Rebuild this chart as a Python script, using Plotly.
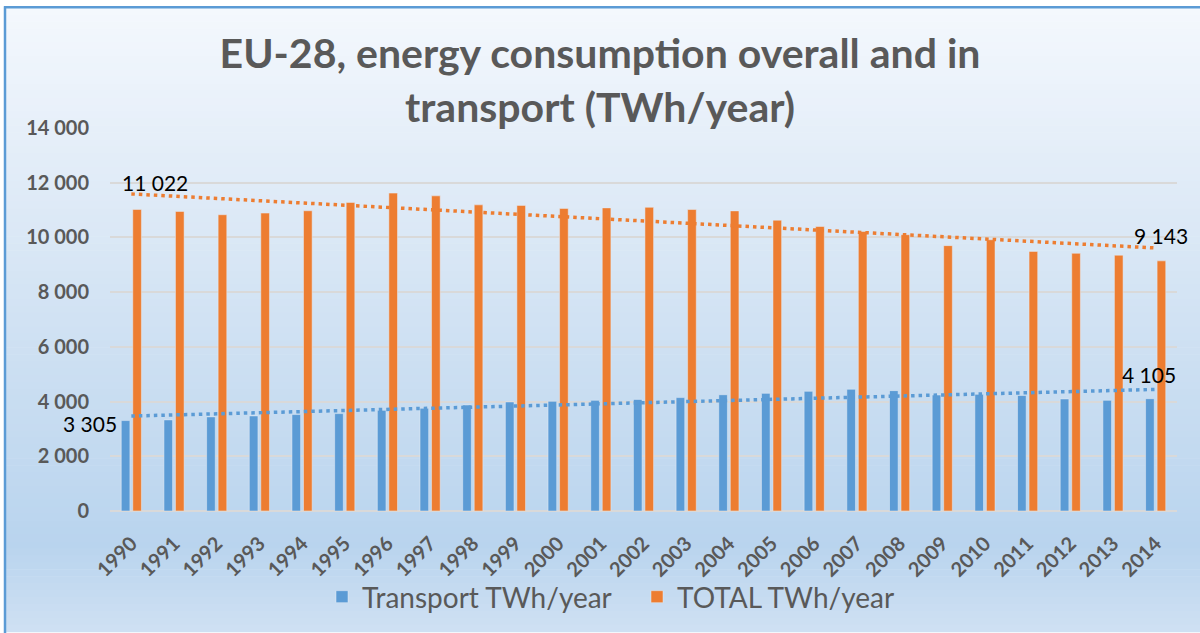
import numpy as np
import plotly.graph_objects as go

years = [str(y) for y in range(1990, 2015)]
transport = [3305, 3330, 3440, 3475, 3525, 3560, 3680, 3755, 3875, 3985, 4010, 4045, 4080,
             4145, 4250, 4300, 4375, 4450, 4400, 4240, 4265, 4220, 4095, 4045, 4105]
total = [11022, 10950, 10830, 10890, 10975, 11280, 11620, 11520, 11190, 11170, 11060, 11080, 11100,
         11020, 10970, 10630, 10400, 10220, 10100, 9700, 9915, 9490, 9420, 9350, 9143]
series_names = ["Transport TWh/year", "TOTAL TWh/year"]
y_ticks = [0, 2000, 4000, 6000, 8000, 10000, 12000, 14000]

BLUE = "#5b9bd5"
ORANGE = "#ed7d31"
GREY = "#595959"

W, H = 1200, 633
ML, MR, MT, MB = 110, 23, 128, 121
PW, PH = W - ML - MR, H - MT - MB


def px_x(p):
    return (p - ML) / PW


def px_y(p):
    return (H - MB - p) / PH


def fmt(v):
    return f"{v:,}".replace(",", " ")


# linear trendlines (as Excel)
idx = np.arange(len(years))
trend_t = np.polyval(np.polyfit(idx, transport, 1), idx)
trend_o = np.polyval(np.polyfit(idx, total, 1), idx)

fig = go.Figure()
fig.add_trace(go.Bar(x=years, y=transport, name=series_names[0], marker_color=BLUE))
fig.add_trace(go.Bar(x=years, y=total, name=series_names[1], marker_color=ORANGE))
fig.add_trace(go.Scatter(x=years, y=trend_t, mode="lines", showlegend=False, hoverinfo="skip",
                         line=dict(color=BLUE, width=3.5, dash="3.5px,4px")))
fig.add_trace(go.Scatter(x=years, y=trend_o, mode="lines", showlegend=False, hoverinfo="skip",
                         line=dict(color=ORANGE, width=3.5, dash="3.5px,4px")))

# background gradient
stops = [(0.0, (0xf4, 0xf8, 0xfd)), (0.2, (0xe6, 0xef, 0xf9)), (0.5, (0xd1, 0xe2, 0xf3)),
         (0.86, (0xb9, 0xd4, 0xee)), (1.0, (0xcf, 0xe1, 0xf3))]


def grad(t):
    for (t0, c0), (t1, c1) in zip(stops[:-1], stops[1:]):
        if t0 <= t <= t1:
            f = (t - t0) / (t1 - t0)
            return "rgb(%d,%d,%d)" % tuple(round(a + (b - a) * f) for a, b in zip(c0, c1))
    return "rgb(%d,%d,%d)" % stops[-1][1]


shapes = []
N = 90
top, bot = 7, H
for i in range(N):
    y0 = top + (bot - top) * i / N
    y1 = top + (bot - top) * (i + 1) / N + 0.6
    shapes.append(dict(type="rect", xref="paper", yref="paper", layer="below",
                       x0=px_x(5), x1=px_x(W + 2), y0=px_y(y1), y1=px_y(y0),
                       line=dict(width=0), fillcolor=grad((i + 0.5) / N)))
# frame lines
shapes.append(dict(type="line", xref="paper", yref="paper", layer="below",
                   x0=px_x(4), x1=px_x(W + 2), y0=px_y(7), y1=px_y(7),
                   line=dict(color=BLUE, width=2.5)))
shapes.append(dict(type="line", xref="paper", yref="paper", layer="below",
                   x0=px_x(5), x1=px_x(5), y0=px_y(6), y1=px_y(H + 2),
                   line=dict(color=BLUE, width=2.5)))

first, last = 0, len(years) - 1  # category indices
lab_font = dict(family="Lato, sans-serif", size=21, color="#000000")
annotations = [
    dict(x=first, y=total[first], text=fmt(total[first]), showarrow=False, xanchor="left",
         yanchor="middle", xshift=-11, yshift=27, font=lab_font),
    dict(x=first, y=transport[first], text=fmt(transport[first]), showarrow=False, xanchor="right",
         yanchor="middle", xshift=-12, yshift=-3, font=lab_font),
    dict(x=last, y=total[last], text=fmt(total[last]), showarrow=False, xanchor="center",
         yanchor="middle", xshift=5, yshift=25, font=lab_font),
    dict(x=last, y=transport[last], text=fmt(transport[last]), showarrow=False, xanchor="center",
         yanchor="middle", xshift=-7, yshift=24, font=lab_font),
]

fig.update_layout(
    width=W, height=H,
    margin=dict(l=ML, r=MR, t=MT, b=MB),
    paper_bgcolor="#ffffff",
    plot_bgcolor="rgba(0,0,0,0)",
    separators=". ",
    barmode="group", bargap=0.46, bargroupgap=0.25,
    title=dict(text="EU-28, energy consumption overall and in<br>transport (TWh/year)",
               x=0.5, xref="container", xanchor="center", y=0.892, yref="container", yanchor="middle",
               font=dict(family="Lato, sans-serif", size=41, color=GREY, weight="bold")),
    xaxis=dict(type="category", range=[-0.5, len(years) - 0.5], tickangle=-45, showgrid=False,
               zeroline=False, showline=False, ticks="", ticklabelstandoff=16,
               tickfont=dict(family="Lato, sans-serif", size=20, color=GREY, weight="bold")),
    yaxis=dict(range=[0, 14000], tickvals=y_ticks, separatethousands=True, tickformat=",d",
               showgrid=True, gridcolor="#d9d9d9", gridwidth=1.5, zeroline=True,
               zerolinecolor="#d9d9d9", zerolinewidth=1.5, showline=False, ticks="",
               ticklabelstandoff=20,
               tickfont=dict(family="Lato, sans-serif", size=20, color=GREY, weight="bold")),
    legend=dict(orientation="h", x=px_x(322), xanchor="left", y=px_y(597), yanchor="middle",
                entrywidth=270, entrywidthmode="pixels",
                bgcolor="rgba(0,0,0,0)",
                font=dict(family="Lato, sans-serif", size=28, color=GREY)),
    shapes=shapes,
    annotations=annotations,
)

fig.write_html("out.html", config={"displayModeBar": False},
               post_script="document.body.style.margin='0px';")
